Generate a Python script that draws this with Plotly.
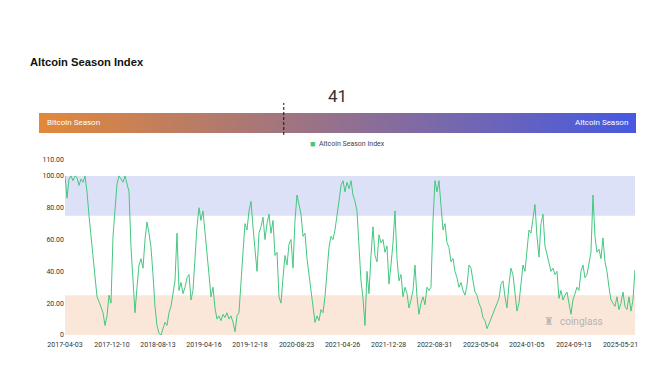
import plotly.graph_objects as go
import pandas as pd

# ---------------- data ----------------
start_date = "2017-04-03"
end_date = "2025-08-06"

index_values = [
    100, 86, 98, 100, 97, 100, 99, 94, 98, 96,
    100, 90, 75, 62, 50, 36, 24, 21, 18, 14,
    6, 12, 25, 20, 62, 80, 95, 100, 98, 96,
    100, 94, 90, 55, 36, 14, 30, 44, 48, 42,
    60, 71, 64, 55, 38, 18, 6, 1, 0, 4,
    8, 6, 14, 18, 27, 34, 64, 28, 33, 26,
    30, 36, 38, 22, 28, 48, 68, 80, 72, 78,
    66, 50, 38, 24, 30, 17, 10, 12, 9, 13,
    11, 14, 10, 12, 8, 2, 12, 14, 36, 52,
    70, 66, 78, 84, 68, 55, 40, 64, 68, 74,
    60, 70, 76, 64, 72, 50, 52, 24, 20, 36,
    50, 44, 57, 60, 42, 72, 88, 82, 76, 62,
    64, 48, 38, 26, 16, 8, 12, 9, 16, 14,
    24, 40, 55, 62, 60, 66, 74, 84, 94, 97,
    90, 96, 92, 97, 88, 84, 78, 55, 34, 23,
    6, 40, 26, 50, 68, 50, 46, 63, 58, 60,
    52, 56, 32, 44, 58, 78, 48, 34, 38, 24,
    30, 26, 17, 22, 28, 44, 24, 13, 20, 24,
    19, 30, 28, 30, 72, 97, 90, 97, 82, 66,
    70, 58, 55, 46, 48, 40, 36, 30, 33, 28,
    25, 31, 44, 42, 34, 27, 25, 20, 17, 11,
    9, 4, 7, 10, 13, 16, 20, 23, 32, 34,
    24, 17, 32, 42, 38, 26, 15, 20, 34, 44,
    40, 54, 66, 64, 75, 82, 62, 49, 70, 76,
    56, 50, 46, 40, 42, 38, 40, 23, 28, 22,
    25, 27, 20, 13, 22, 26, 30, 28, 40, 44,
    36, 38, 44, 52, 88, 62, 52, 54, 48, 61,
    46, 40, 30, 22, 20, 18, 24, 16, 20, 27,
    18, 16, 24, 15, 22, 41,
]

tick_dates = [
    "2017-04-03", "2017-12-10", "2018-08-13", "2019-04-16", "2019-12-18",
    "2020-08-23", "2021-04-26", "2021-12-28", "2022-08-31", "2023-05-04",
    "2024-01-05", "2024-09-13", "2025-05-21",
]
y_ticks = [0, 20, 40, 60, 80, 100, 110]
y_tick_labels = ["0", "20.00", "40.00", "60.00", "80.00", "100.00", "110.00"]

series_name = "Altcoin Season Index"
current_value = 41
altcoin_band = [75, 100]
bitcoin_band = [0, 25]
gauge_steps = list(range(0, 101))

dates = pd.date_range(start_date, end_date, periods=len(index_values))

LINE_GREEN = "#45c77f"

# ---------------- figure ----------------
fig = go.Figure()

fig.add_trace(go.Scatter(
    x=dates, y=index_values, mode="lines", name=series_name,
    line=dict(color=LINE_GREEN, width=1),
    showlegend=False, hoverinfo="x+y",
))

# gradient gauge bar
fig.add_trace(go.Heatmap(
    x=gauge_steps, y=[0], z=[gauge_steps],
    colorscale=[[0, "#e2883a"], [1, "#4659e2"]],
    zsmooth="best", showscale=False, hoverinfo="skip",
    xaxis="x2", yaxis="y2",
))

fig.update_layout(
    width=642, height=358,
    margin=dict(l=0, r=0, t=0, b=0),
    paper_bgcolor="white", plot_bgcolor="white",
    font=dict(family="Liberation Sans, Arial, sans-serif", color="#333"),
    showlegend=False,
    xaxis=dict(
        type="date", domain=[0.0888, 0.9766], anchor="y",
        range=[dates[0], dates[-1]],
        tickvals=tick_dates, ticktext=tick_dates,
        showgrid=False, zeroline=False, showline=False, ticks="",
        ticklabelstandoff=4,
        tickfont=dict(size=7, color="#333", family="Roboto, sans-serif"),
        automargin=False,
    ),
    yaxis=dict(
        domain=[0.0866, 0.5754], anchor="x", range=[0, 110],
        tickvals=y_ticks, ticktext=y_tick_labels,
        showgrid=False, zeroline=False, showline=False, ticks="",
        tickfont=dict(size=7, color="#333", family="Roboto, sans-serif"),
        automargin=False,
    ),
    xaxis2=dict(domain=[0.0483, 0.9782], anchor="y2", range=[0, 100], visible=False),
    yaxis2=dict(domain=[0.6508, 0.7067], anchor="x2", range=[-0.5, 0.5], visible=False),
    shapes=[
        dict(type="rect", xref="x domain", yref="y", x0=0, x1=1,
             y0=altcoin_band[0], y1=altcoin_band[1],
             fillcolor="#dce1f8", line=dict(width=0), layer="below"),
        dict(type="rect", xref="x domain", yref="y", x0=0, x1=1,
             y0=bitcoin_band[0], y1=bitcoin_band[1],
             fillcolor="#fbe7da", line=dict(width=0), layer="below"),
        dict(type="line", xref="x2", yref="paper",
             x0=current_value, x1=current_value, y0=0.6453, y1=0.7346,
             line=dict(color="#111", width=1, dash="3px,2px")),
    ],
    annotations=[
        dict(text="<b>Altcoin Season Index</b>", x=0.0312, y=0.849,
             xref="paper", yref="paper", xanchor="left", yanchor="middle",
             showarrow=False, font=dict(size=11.2, color="#111",
                                        family="Liberation Sans, Arial, sans-serif")),
        dict(text=str(current_value), x=0.5125, y=0.754,
             xref="paper", yref="paper", xanchor="center", yanchor="middle",
             showarrow=False, font=dict(size=17, color="#333", family="Roboto, sans-serif")),
        dict(text="Bitcoin Season", x=0.0576, y=0.6788,
             xref="paper", yref="paper", xanchor="left", yanchor="middle",
             showarrow=False, font=dict(size=8, color="white", family="Roboto, sans-serif")),
        dict(text="Altcoin Season", x=0.9688, y=0.6788,
             xref="paper", yref="paper", xanchor="right", yanchor="middle",
             showarrow=False, font=dict(size=8, color="white", family="Roboto, sans-serif")),
        # legend (square + label)
        dict(text="■", x=0.4745, y=0.620,
             xref="paper", yref="paper", xanchor="center", yanchor="middle",
             showarrow=False, font=dict(size=9, color=LINE_GREEN)),
        dict(text=series_name, x=0.4815, y=0.620,
             xref="paper", yref="paper", xanchor="left", yanchor="middle",
             showarrow=False, font=dict(size=7, color="#444", family="Roboto, sans-serif")),
        # watermark
        dict(text="coinglass", x=0.857, y=0.123,
             xref="paper", yref="paper", xanchor="left", yanchor="middle",
             showarrow=False, font=dict(size=10, color="#b4b4b4", family="Roboto, sans-serif")),
        dict(text="♜", x=0.853, y=0.123,
             xref="paper", yref="paper", xanchor="right", yanchor="middle",
             showarrow=False, font=dict(size=11, color="#b8b8b8", family="DejaVu Sans")),
    ],
)

fig.write_html("out.html")
